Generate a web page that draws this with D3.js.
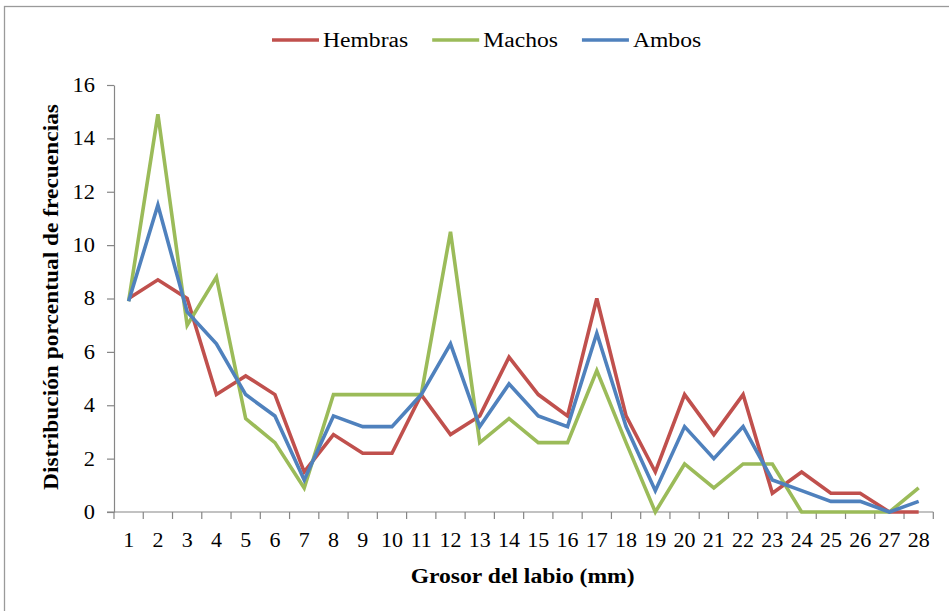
<!DOCTYPE html>
<html>
<head>
<meta charset="utf-8">
<script src="https://cdn.jsdelivr.net/npm/d3@7"></script>
<style>
  html, body { margin: 0; padding: 0; background: #fff; }
  svg text { font-family: "Liberation Serif", "Times New Roman", serif; fill: #000; }
</style>
</head>
<body>
<svg id="chart" width="949" height="611"></svg>
<script>
// Lip thickness classes (mm)
const categories = d3.range(1, 29).map(String);

// Percentage frequency distribution per class
const hembras = [8.0, 8.7, 8.0, 4.4, 5.1, 4.4, 1.5, 2.9, 2.2, 2.2, 4.4, 2.9, 3.6, 5.8,
                 4.4, 3.6, 8.0, 3.6, 1.5, 4.4, 2.9, 4.4, 0.7, 1.5, 0.7, 0.7, 0.0, 0.0];
const machos  = [7.9, 14.9, 7.0, 8.8, 3.5, 2.6, 0.9, 4.4, 4.4, 4.4, 4.4, 10.5, 2.6, 3.5,
                 2.6, 2.6, 5.3, 2.6, 0.0, 1.8, 0.9, 1.8, 1.8, 0.0, 0.0, 0.0, 0.0, 0.9];
const ambos   = [7.9, 11.5, 7.5, 6.3, 4.4, 3.6, 1.2, 3.6, 3.2, 3.2, 4.4, 6.3, 3.2, 4.8,
                 3.6, 3.2, 6.7, 3.2, 0.8, 3.2, 2.0, 3.2, 1.2, 0.8, 0.4, 0.4, 0.0, 0.4];

const seriesNames  = ["Hembras", "Machos", "Ambos"];
const seriesValues = [hembras, machos, ambos];
const seriesColors = ["#C0504D", "#9BBB59", "#4F81BD"];

const yTicks = [0, 2, 4, 6, 8, 10, 12, 14, 16];
const xTitle = "Grosor del labio (mm)";
const yTitle = "Distribución porcentual de frecuencias";

const svg = d3.select("#chart");
const axisColor = "#868686";

// Glyphs in this chart are drawn a little wider than the regular serif face
function widen(sel, k) {
  sel.each(function () {
    const w = this.getComputedTextLength();
    d3.select(this).attr("textLength", w * k).attr("lengthAdjust", "spacingAndGlyphs");
  });
}

// Outer frame
svg.append("rect")
  .attr("x", 4.5).attr("y", 6.5)
  .attr("width", 980).attr("height", 640)
  .attr("fill", "none").attr("stroke", "#9a9a9a").attr("stroke-width", 1.3);

const plot = { left: 114, right: 933.3, top: 85, bottom: 512 };

const x = d3.scaleBand().domain(categories).range([plot.left, plot.right]).paddingInner(0).paddingOuter(0);
const y = d3.scaleLinear().domain([0, 16]).range([plot.bottom, plot.top]);

// Y axis
const yAxis = svg.append("g")
  .attr("transform", `translate(${plot.left},0)`)
  .call(d3.axisLeft(y).tickValues(yTicks).tickSize(7).tickPadding(12).tickSizeOuter(0));
yAxis.select(".domain").attr("stroke", axisColor).attr("stroke-width", 1.2);
yAxis.selectAll(".tick line").attr("stroke", axisColor).attr("stroke-width", 1.2);
yAxis.selectAll(".tick text").attr("font-size", 20).attr("font-family", "Liberation Serif").call(widen, 1.12);

// X axis: ticks sit on the class boundaries, labels at the class centres
const xAxis = svg.append("g")
  .attr("transform", `translate(0,${plot.bottom})`)
  .call(d3.axisBottom(x).tickSize(0).tickPadding(21));
xAxis.select(".domain").remove();
xAxis.selectAll(".tick text").attr("font-size", 20).attr("font-family", "Liberation Serif").call(widen, 1.1);

const boundaries = categories.map(c => x(c)).concat([x.range()[1]]);
xAxis.append("line")
  .attr("x1", plot.left - 7).attr("x2", plot.right)
  .attr("y1", 0).attr("y2", 0)
  .attr("stroke", axisColor).attr("stroke-width", 1.2);
xAxis.selectAll(".bnd").data(boundaries).join("line")
  .attr("class", "bnd")
  .attr("x1", d => d).attr("x2", d => d)
  .attr("y1", 0).attr("y2", 7)
  .attr("stroke", axisColor).attr("stroke-width", 1.2);

// Series lines
const line = d3.line()
  .x((d, i) => x(categories[i]) + x.bandwidth() / 2)
  .y(d => y(d));

svg.append("g").selectAll("path")
  .data(seriesValues)
  .join("path")
  .attr("d", d => line(d))
  .attr("fill", "none")
  .attr("stroke", (d, i) => seriesColors[i])
  .attr("stroke-width", 3.6)
  .attr("stroke-linejoin", "miter")
  .attr("stroke-linecap", "butt");

// Legend
const legend = svg.append("g").attr("transform", "translate(272,40)");
let lx = 0;
seriesNames.forEach((name, i) => {
  const g = legend.append("g").attr("transform", `translate(${lx},0)`);
  g.append("line").attr("x1", 0).attr("x2", 47).attr("y1", 0).attr("y2", 0)
    .attr("stroke", seriesColors[i]).attr("stroke-width", 3.6);
  const t = g.append("text").attr("x", 51).attr("y", 7).attr("font-size", 20).text(name);
  widen(t, 1.18);
  lx += 51 + +t.attr("textLength") + 24;
});

// Axis titles
const xt = svg.append("text")
  .attr("x", (plot.left + plot.right) / 2 - 1).attr("y", 583)
  .attr("text-anchor", "middle").attr("font-size", 20).attr("font-weight", "bold")
  .text(xTitle);
widen(xt, 1.18);

const yt = svg.append("text")
  .attr("transform", "translate(58,297) rotate(-90)")
  .attr("text-anchor", "middle").attr("font-size", 20).attr("font-weight", "bold")
  .text(yTitle);
widen(yt, 1.17);
</script>
</body>
</html>
